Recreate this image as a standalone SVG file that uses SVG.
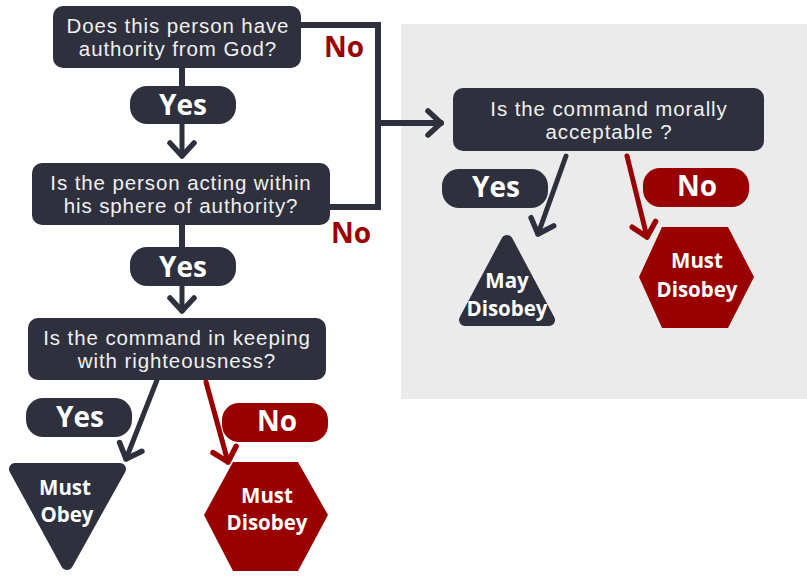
<svg xmlns="http://www.w3.org/2000/svg" width="807" height="578" viewBox="0 0 807 578">
<defs>
<style>
.q{fill:#2e303e}
.qt{font-family:"Liberation Sans",Arial,sans-serif;font-size:20.5px;letter-spacing:0.9px;fill:#f0f0f0;text-anchor:middle}
.pill{fill:#2e303e}
.rpill{fill:#990000}
.pt{font-family:"Open Sans","Liberation Sans",sans-serif;font-weight:700;font-size:28px;fill:#ffffff;text-anchor:middle}
.nl{font-family:"Open Sans","Liberation Sans",sans-serif;font-weight:700;font-size:28px;fill:#990000;text-anchor:middle}
.bt{font-family:"Open Sans","Liberation Sans",sans-serif;font-weight:700;font-size:20.5px;fill:#ffffff;text-anchor:middle}
.ln{fill:none;stroke:#2e303e;stroke-width:6}
.ad{fill:none;stroke:#2e303e;stroke-width:5;stroke-linecap:round}
.ar{fill:none;stroke:#990000;stroke-width:5;stroke-linecap:round}
</style>
<marker id="mD" markerUnits="userSpaceOnUse" markerWidth="30" markerHeight="30" refX="0" refY="0" orient="auto" overflow="visible">
<path d="M-13,-12 L0,0 L-13,12" fill="none" stroke="#2e303e" stroke-width="5.5" stroke-linecap="round" stroke-linejoin="round"/>
</marker>
<marker id="mR" markerUnits="userSpaceOnUse" markerWidth="30" markerHeight="30" refX="0" refY="0" orient="auto" overflow="visible">
<path d="M-13,-12 L0,0 L-13,12" fill="none" stroke="#990000" stroke-width="5.5" stroke-linecap="round" stroke-linejoin="round"/>
</marker>
</defs>
<rect x="0" y="0" width="807" height="578" fill="#ffffff"/>
<rect id="panel" x="401" y="24" width="406" height="375" fill="#ebebeb"/>

<g id="connectors">
<polyline class="ln" points="300,25 378,25 378,207 329,207"/>
<line class="ad" x1="378" y1="123" x2="441" y2="123" marker-end="url(#mD)" style="stroke-width:6"/>
<line class="ad" x1="182" y1="66" x2="182" y2="90" style="stroke-width:6"/>
<line class="ad" x1="182" y1="120" x2="182" y2="156" marker-end="url(#mD)"/>
<line class="ad" x1="182" y1="222" x2="182" y2="250" style="stroke-width:6"/>
<line class="ad" x1="182" y1="282" x2="182" y2="311" marker-end="url(#mD)"/>
<line class="ad" x1="157" y1="380" x2="126" y2="459" marker-end="url(#mD)"/>
<line class="ar" x1="206" y1="382" x2="228" y2="462" marker-end="url(#mR)"/>
<line class="ad" x1="566" y1="156" x2="538" y2="234" marker-end="url(#mD)"/>
<line class="ar" x1="627" y1="156" x2="647" y2="237" marker-end="url(#mR)"/>
</g>

<g id="q1">
<rect class="q" x="53" y="6" width="248" height="62" rx="10"/>
<text class="qt" x="178" y="33">Does this person have</text>
<text class="qt" x="178" y="56">authority from God?</text>
</g>
<g id="no1"><text class="nl" x="344" y="57">No</text></g>
<g id="yes1">
<rect class="pill" x="130" y="86" width="106" height="38" rx="17"/>
<text class="pt" x="183" y="115">Yes</text>
</g>
<g id="q2">
<rect class="q" x="32" y="163" width="298" height="62" rx="10"/>
<text class="qt" x="181" y="190">Is the person acting within</text>
<text class="qt" x="181" y="213">his sphere of authority?</text>
</g>
<g id="no2"><text class="nl" x="351" y="243">No</text></g>
<g id="yes2">
<rect class="pill" x="130" y="247" width="106" height="39" rx="17"/>
<text class="pt" x="183" y="277">Yes</text>
</g>
<g id="q3">
<rect class="q" x="28" y="318" width="298" height="62" rx="10"/>
<text class="qt" x="177" y="345">Is the command in keeping</text>
<text class="qt" x="177" y="368">with righteousness?</text>
</g>
<g id="yes3">
<rect class="pill" x="26" y="398" width="106" height="39" rx="17"/>
<text class="pt" x="80" y="427">Yes</text>
</g>
<g id="no3">
<rect class="rpill" x="222" y="403" width="106" height="39" rx="17"/>
<text class="pt" x="277" y="431">No</text>
</g>
<g id="mustobey">
<polygon points="15,469 120,469 67,564" fill="#2e303e" stroke="#2e303e" stroke-width="12" stroke-linejoin="round"/>
<text class="bt" x="65" y="495">Must</text>
<text class="bt" x="67" y="522">Obey</text>
</g>
<g id="mustdisobey1">
<polygon points="233,462 298,462 328,515 298,571 233,571 204,515" fill="#990000"/>
<text class="bt" x="267" y="503">Must</text>
<text class="bt" x="267" y="530">Disobey</text>
</g>

<g id="q4">
<rect class="q" x="453" y="88" width="311" height="63" rx="10"/>
<text class="qt" x="609" y="116">Is the command morally</text>
<text class="qt" x="609" y="139">acceptable ?</text>
</g>
<g id="yes4">
<rect class="pill" x="442" y="169" width="106" height="39" rx="17"/>
<text class="pt" x="496" y="197">Yes</text>
</g>
<g id="no4">
<rect class="rpill" x="643" y="168" width="106" height="39" rx="17"/>
<text class="pt" x="697" y="196">No</text>
</g>
<g id="maydisobey">
<polygon points="507,241 549,320 465,320" fill="#2e303e" stroke="#2e303e" stroke-width="12" stroke-linejoin="round"/>
<text class="bt" x="507" y="288">May</text>
<text class="bt" x="507" y="316">Disobey</text>
</g>
<g id="mustdisobey2">
<polygon points="662,227 728,227 754,277 728,328 662,328 639,277" fill="#990000"/>
<text class="bt" x="697" y="268">Must</text>
<text class="bt" x="697" y="297">Disobey</text>
</g>
</svg>
